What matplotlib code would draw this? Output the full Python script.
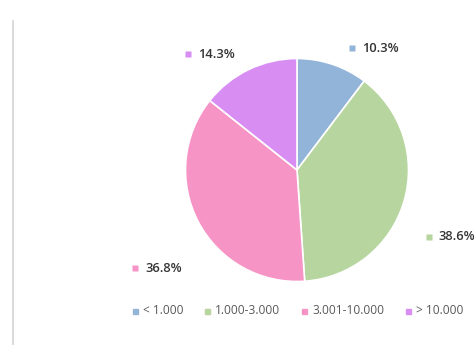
import matplotlib
matplotlib.use("Agg")
import matplotlib.pyplot as plt
import numpy as np

categories = ["< 1.000", "1.000-3.000", "3.001-10.000", "> 10.000"]
shares = [10.3, 38.6, 36.8, 14.3]
colors = ["#93b4d9", "#b7d59e", "#f694c6", "#d88df2"]

# label anchor (marker position) for each slice, in pie radius units
label_pos = [(0.49, 1.09), (1.18, -0.60), (-1.45, -0.88), (-0.98, 1.04)]

plt.rcParams["font.family"] = ["Open Sans", "DejaVu Sans"]

W, H = 474, 345
fig = plt.figure(figsize=(W / 100, H / 100), dpi=100)
fig.patch.set_facecolor("white")

# thin frame edge on the left
fig.add_artist(plt.Line2D([12.5 / W, 12.5 / W], [0, 1 - 21 / H],
                          color="#d4d4d4", lw=1.2, transform=fig.transFigure))

cx, cy, r = 297, 170, 111.5
ax = fig.add_axes([(cx - r) / W, (H - cy - r) / H, 2 * r / W, 2 * r / H])
wedges, _ = ax.pie(shares, colors=colors, startangle=90, counterclock=False,
                   radius=1.0, wedgeprops=dict(edgecolor="white", linewidth=1.2))
ax.set_xlim(-1, 1)
ax.set_ylim(-1, 1)
ax.set_aspect("equal")
ax.axis("off")

for (mx, my), val, col in zip(label_pos, shares, colors):
    ax.plot([mx], [my], marker="s", ms=4.5, color=col, mec="none", clip_on=False)
    ax.text(mx + 0.09, my, f"{val:.1f}%", fontsize=9.3, color="#333333",
            fontweight="semibold", va="center", ha="left", clip_on=False)

# legend row
leg_y = 1 - 311 / H
leg_x = [135, 207, 304, 408]
for x, lab, col in zip(leg_x, categories, colors):
    fig.patches.append(plt.Rectangle(((x - 2.5) / W, leg_y - 2.5 / H), 5 / W, 5 / H,
                                     color=col, transform=fig.transFigure))
    fig.text((x + 8) / W, leg_y, lab, fontsize=8.6, color="#595959",
             va="center", ha="left")

fig.savefig("out.png", dpi=100, facecolor="white")
